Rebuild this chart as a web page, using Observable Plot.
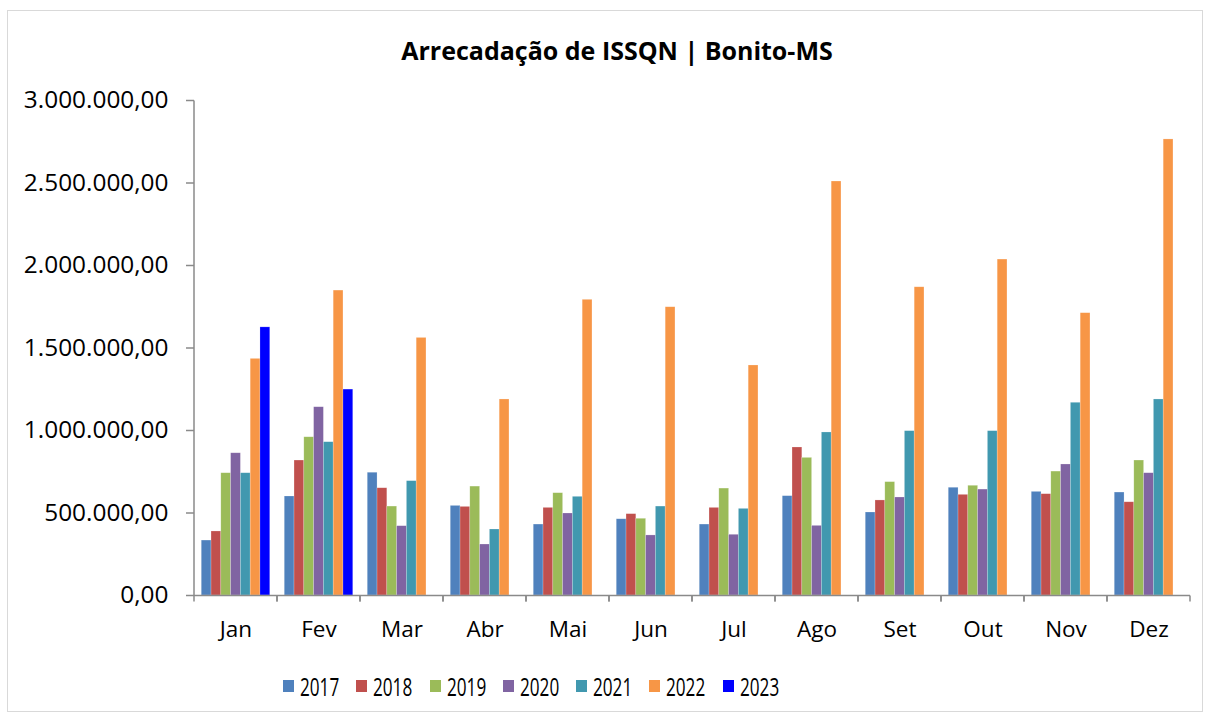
<!DOCTYPE html>
<html>
<head>
<meta charset="utf-8">
<script src="https://cdn.jsdelivr.net/npm/d3@7"></script>
<script src="https://cdn.jsdelivr.net/npm/@observablehq/plot@0.6"></script>
<style>
  body { margin: 0; background: #fff; font-family: "Open Sans", Lato, sans-serif; }
  #wrap { position: relative; width: 1210px; height: 720px; overflow: hidden; }
  #border { position: absolute; left: 7px; top: 10px; width: 1194px; height: 700px; border: 1px solid #d9d9d9; pointer-events: none; }
  #title { height: 80px; box-sizing: border-box; padding-top: 34px; padding-left: 24px; line-height: 32px; font-size: 25px; font-weight: bold; text-align: center; color: #000; white-space: nowrap; }
  #chart svg { display: block; }
  #legend { position: absolute; left: 0; top: 669px; width: 1210px; height: 34px; box-sizing: border-box; padding-left: 283px; display: flex; align-items: center; }
  .item { width: 73.3px; display: flex; align-items: center; height: 34px; flex: none; }
  .sw { width: 11px; height: 12px; margin-right: 6px; flex: none; }
  .lab { display: inline-block; font-size: 26px; line-height: 34px; transform: scaleX(0.66); transform-origin: left center; white-space: nowrap; color: #000; }
</style>
</head>
<body>
<div id="wrap">
  <div id="border"></div>
  <div id="title">Arrecadação de ISSQN | Bonito-MS</div>
  <div id="chart"></div>
  <div id="legend"></div>
</div>
<script>
// ---- Data ----
const titleText = "Arrecadação de ISSQN | Bonito-MS";
const months = ["Jan", "Fev", "Mar", "Abr", "Mai", "Jun", "Jul", "Ago", "Set", "Out", "Nov", "Dez"];
const years = [2017, 2018, 2019, 2020, 2021, 2022, 2023];
const v2017 = [333000, 600000, 744000, 543000, 430000, 462000, 430000, 602000, 503000, 653000, 628000, 624000];
const v2018 = [388000, 818000, 650000, 537000, 531000, 493000, 531000, 897000, 576000, 610000, 614000, 565000];
const v2019 = [741000, 959000, 539000, 660000, 620000, 465000, 648000, 834000, 687000, 665000, 751000, 818000];
const v2020 = [862000, 1141000, 420000, 309000, 497000, 364000, 368000, 422000, 594000, 642000, 794000, 741000];
const v2021 = [741000, 929000, 693000, 400000, 598000, 539000, 525000, 988000, 996000, 996000, 1168000, 1188000];
const v2022 = [1434000, 1848000, 1561000, 1188000, 1792000, 1747000, 1394000, 2509000, 1868000, 2036000, 1711000, 2764000];
const v2023 = [1625000, 1248000];
const yTicks = [0, 500000, 1000000, 1500000, 2000000, 2500000, 3000000];
const colors = ["#4F81BD", "#C0504D", "#9BBB59", "#8064A2", "#4198AF", "#F79646", "#0000FF"];
const axisColor = "#8a8a8a";

// ---- Build table ----
const seriesValues = [v2017, v2018, v2019, v2020, v2021, v2022, v2023];
const rows = [];
seriesValues.forEach((vals, s) => vals.forEach((v, i) => rows.push({month: months[i], year: years[s], value: v})));
const monthRows = months.map(m => ({month: m}));

const fmt = d3.formatLocale({decimal: ",", thousands: ".", grouping: [3], currency: ["", ""]}).format(",.2f");

const ns = "http://www.w3.org/2000/svg";
function line(g, x1, y1, x2, y2) {
  const l = document.createElementNS(ns, "line");
  l.setAttribute("x1", x1); l.setAttribute("y1", y1);
  l.setAttribute("x2", x2); l.setAttribute("y2", y2);
  l.setAttribute("stroke", axisColor);
  l.setAttribute("stroke-width", 1.5);
  g.appendChild(l);
}

const chart = Plot.plot({
  width: 1210,
  height: 570,
  marginTop: 20,
  marginBottom: 55,
  marginLeft: 191,
  marginRight: 18,
  style: {fontFamily: "'Open Sans', Lato, sans-serif", fontSize: "24.4px", color: "#000", background: "transparent"},
  fx: {domain: months, paddingInner: 0, paddingOuter: 0, label: null, axis: null},
  x: {domain: years, paddingInner: 0, paddingOuter: 0.74, round: false, axis: null},
  y: {domain: [0, 3000000], axis: null},
  color: {domain: years, range: colors},
  marks: [
    Plot.barY(rows, {fx: "month", x: "year", y: "value", fill: "year", stroke: "#ffffff", strokeOpacity: 0.35, strokeWidth: 0.6}),
    Plot.ruleY(monthRows, {
      fx: "month", y: () => 0, stroke: axisColor, strokeWidth: 1.5,
      render(index, scales, values, dims, context, next) {
        const g = next(index, scales, values, dims, context);
        const x0 = dims.marginLeft, x1 = dims.width - dims.marginRight;
        const y0 = scales.y(0);
        line(g, x0, y0, x0, y0 + 6);
        line(g, x1, y0, x1, y0 + 6);
        const m = index.length ? monthRows[index[0]].month : null;
        if (m === months[0]) line(g, x0, scales.y(3000000), x0, y0);
        return g;
      }
    }),
    Plot.axisY({ticks: yTicks, tickFormat: fmt, tickSize: 8, tickPadding: 18, stroke: axisColor, strokeWidth: 1.5, fill: "#000", label: null, fontSize: 24.4}),
    Plot.axisFx({anchor: "bottom", tickSize: 0, tickPadding: 26, label: null, fill: "#000", fontSize: 22.5})
  ]
});
document.getElementById("chart").appendChild(chart);

// ---- Legend ----
const legend = document.getElementById("legend");
years.forEach((y, i) => {
  const it = document.createElement("div");
  it.className = "item";
  const sw = document.createElement("span");
  sw.className = "sw";
  sw.style.background = colors[i];
  const lab = document.createElement("span");
  lab.className = "lab";
  lab.textContent = String(y);
  it.appendChild(sw); it.appendChild(lab);
  legend.appendChild(it);
});
</script>
</body>
</html>
